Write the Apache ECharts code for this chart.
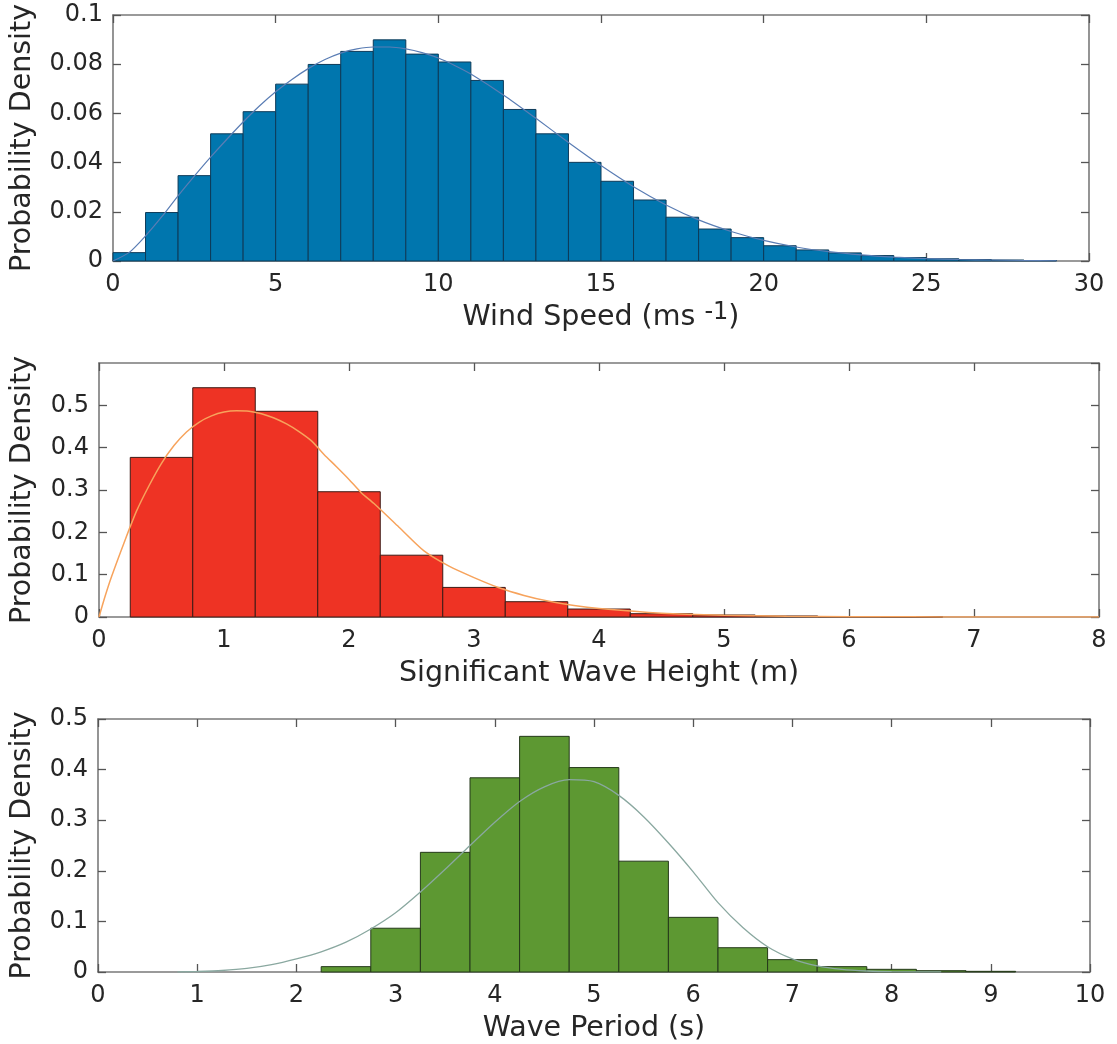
<!DOCTYPE html>
<html>
<head>
<meta charset="utf-8">
<script src="https://cdn.jsdelivr.net/npm/echarts@6/dist/echarts.min.js"></script>
<style>
  html, body { margin: 0; padding: 0; background: #ffffff; }
  #chart { width: 1117px; height: 1044px; }
</style>
</head>
<body>
<div id="chart"></div>
<script>
// ---------- Data ----------
// Wind speed histogram (bin edges in m/s) and probability densities
const windBinEdges = [0,1,2,3,4,5,6,7,8,9,10,11,12,13,14,15,16,17,18,19,20,21,22,23,24,25,26,27,28,29];
const windDensity = [0.0034,0.0197,0.0347,0.0517,0.0607,0.0719,0.0799,0.0852,0.0899,0.0841,
                     0.0809,0.0734,0.0616,0.0517,0.0401,0.0324,0.0248,0.0178,0.0130,0.0095,
                     0.0062,0.0045,0.0033,0.0022,0.0014,0.0009,0.0006,0.0004,0.0002];
// Fitted density curve (wind)
const windFitX = [0,0.5,1,1.5,2,2.5,3,3.5,4,4.5,5,5.5,6,6.5,7,7.5,8,8.5,9,9.5,10,10.5,11,12,13,14,15,16,17,18,19,20,21,22,23,24,25,26,27,28,29];
const windFitY = [0,0.0035,0.0102,0.0180,0.0265,0.0345,0.0422,0.0495,0.0565,0.0630,0.0688,0.0738,0.0782,0.0818,0.0845,0.0862,0.0870,0.0870,0.0862,0.0847,0.0825,0.0795,0.0760,0.0675,0.0580,0.0482,0.0388,0.0302,0.0228,0.0167,0.0120,0.0084,0.0057,0.0038,0.0025,0.0016,0.0010,0.0006,0.0004,0.0002,0.0001];

// Significant wave height histogram (bin edges in m)
const waveHeightBinEdges = [0.25,0.75,1.25,1.75,2.25,2.75,3.25,3.75,4.25,4.75,5.25,5.75,6.25,6.75];
const waveHeightDensity = [0.377,0.5416,0.4859,0.2959,0.146,0.0699,0.0361,0.0188,0.0078,0.0047,0.0024,0.0008,0.0004];
const waveHeightFitX = [0,0.05,0.1,0.2,0.3,0.4,0.5,0.6,0.7,0.8,0.9,1.0,1.1,1.2,1.3,1.4,1.5,1.6,1.7,1.8,1.9,2.0,2.1,2.2,2.4,2.6,2.8,3.0,3.2,3.4,3.6,3.8,4.0,4.5,5.0,5.5,6.0,6.5,7.0,8.0];
const waveHeightFitY = [0,0.05,0.095,0.175,0.25,0.31,0.363,0.405,0.437,0.46,0.475,0.484,0.487,0.486,0.48,0.47,0.456,0.438,0.416,0.384,0.355,0.325,0.293,0.268,0.212,0.156,0.12,0.093,0.069,0.051,0.037,0.027,0.02,0.009,0.004,0.0018,0.0008,0.0004,0.0002,0.0001];

// Wave period histogram (bin edges in s)
const wavePeriodBinEdges = [2.25,2.75,3.25,3.75,4.25,4.75,5.25,5.75,6.25,6.75,7.25,7.75,8.25,8.75,9.25];
const wavePeriodDensity = [0.0106,0.0865,0.2365,0.3838,0.4657,0.404,0.219,0.108,0.048,0.0244,0.0106,0.0053,0.0026,0.0013];
const wavePeriodFitX = [0.8,1.0,1.25,1.5,1.75,2.0,2.25,2.5,2.75,3.0,3.25,3.5,3.75,4.0,4.25,4.5,4.75,5.0,5.25,5.5,5.75,6.0,6.25,6.5,6.75,7.0,7.25,7.5,7.75,8.0,8.5];
const wavePeriodFitY = [0,0.001,0.003,0.007,0.0145,0.026,0.040,0.059,0.085,0.117,0.158,0.203,0.25,0.296,0.337,0.366,0.38,0.376,0.349,0.307,0.255,0.198,0.137,0.088,0.05,0.026,0.012,0.005,0.002,0.0007,0.0001];

// Axis labels
const yTitle = 'Probability Density';
const xTitles = ['{a|Wind Speed (ms }{b|-1}{a|)}', 'Significant Wave Height (m)', 'Wave Period (s)'];

// ---------- Helpers ----------
function histData(edges, dens) {
  return dens.map((v, i) => [edges[i], edges[i + 1], v]);
}
function pairs(xs, ys) { return xs.map((x, i) => [x, ys[i]]); }

const FONT = 'DejaVu Sans';
const TXT = '#262626';
const AXIS_LINE = { show: true, onZero: false, lineStyle: { color: '#7a7a7a', width: 1.6 } };
const TICK = { show: true, inside: true, length: 8, lineStyle: { color: '#555555', width: 1.3 } };

function makeHistSeries(idx, edges, dens, fill, edge) {
  return {
    type: 'custom',
    xAxisIndex: idx * 2, yAxisIndex: idx * 2,
    data: histData(edges, dens),
    encode: { x: [0, 1], y: 2 },
    renderItem: function (params, api) {
      const p0 = api.coord([api.value(0), api.value(2)]);
      const p1 = api.coord([api.value(1), 0]);
      return {
        type: 'rect',
        shape: { x: p0[0], y: p0[1], width: p1[0] - p0[0], height: p1[1] - p0[1] },
        style: { fill: fill, stroke: edge, lineWidth: 1 }
      };
    },
    z: 2
  };
}
function makeLineSeries(idx, xs, ys, color, width) {
  return {
    type: 'line', xAxisIndex: idx * 2, yAxisIndex: idx * 2,
    data: pairs(xs, ys), smooth: 0.25, showSymbol: false,
    lineStyle: { color: color, width: width }, z: 5, silent: true
  };
}

const grids = [
  { left: 112, top: 15, width: 977, height: 246 },
  { left: 97, top: 363, width: 1002, height: 254 },
  { left: 96, top: 719, width: 994, height: 253 }
];
const xRanges = [ {min: 0, max: 30, interval: 5}, {min: 0, max: 8, interval: 1}, {min: 0, max: 10, interval: 1} ];
const yRanges = [ {min: 0, max: 0.1, interval: 0.02}, {min: 0, max: 0.6, interval: 0.1}, {min: 0, max: 0.5, interval: 0.1} ];
const xNameGaps = [40, 42, 42];
const yNameGaps = [76, 62, 61];

const xAxes = [], yAxes = [];
for (let i = 0; i < 3; i++) {
  xAxes.push({
    type: 'value', gridIndex: i, position: 'bottom', ...xRanges[i],
    name: xTitles[i], nameLocation: 'middle', nameGap: xNameGaps[i],
    nameTextStyle: {
      fontFamily: FONT, fontSize: 28.5, color: TXT,
      rich: {
        a: { fontFamily: FONT, fontSize: 28.5, color: TXT, lineHeight: 34 },
        b: { fontFamily: FONT, fontSize: 24, color: TXT, lineHeight: 22, verticalAlign: 'top' }
      }
    },
    axisLine: AXIS_LINE, axisTick: TICK, splitLine: { show: false },
    axisLabel: { fontFamily: FONT, fontSize: 24, color: TXT, margin: 12 }
  });
  xAxes.push({
    type: 'value', gridIndex: i, position: 'top', ...xRanges[i],
    axisLine: AXIS_LINE, axisTick: TICK, splitLine: { show: false },
    axisLabel: { show: false }
  });
  yAxes.push({
    type: 'value', gridIndex: i, position: 'left', ...yRanges[i],
    name: yTitle, nameLocation: 'middle', nameGap: yNameGaps[i], nameRotate: 90,
    nameTextStyle: { fontFamily: FONT, fontSize: 28.5, color: TXT },
    axisLine: AXIS_LINE, axisTick: TICK, splitLine: { show: false },
    axisLabel: { fontFamily: FONT, fontSize: 24, color: TXT, margin: 10, showMaxLabel: i !== 1 }
  });
  yAxes.push({
    type: 'value', gridIndex: i, position: 'right', ...yRanges[i],
    axisLine: AXIS_LINE, axisTick: TICK, splitLine: { show: false },
    axisLabel: { show: false }
  });
}

const chart = echarts.init(document.getElementById('chart'), null, { renderer: 'canvas' });
chart.setOption({
  animation: false,
  backgroundColor: '#ffffff',
  grid: grids,
  xAxis: xAxes,
  yAxis: yAxes,
  series: [
    makeHistSeries(0, windBinEdges, windDensity, '#0076ae', '#0d3a58'),
    makeLineSeries(0, windFitX, windFitY, '#5a7db4', 1.2),
    makeHistSeries(1, waveHeightBinEdges, waveHeightDensity, '#ee3324', '#3d1a14'),
    makeLineSeries(1, waveHeightFitX, waveHeightFitY, '#f7a35c', 1.5),
    makeHistSeries(2, wavePeriodBinEdges, wavePeriodDensity, '#5d9832', '#25391a'),
    makeLineSeries(2, wavePeriodFitX, wavePeriodFitY, '#8aa8a0', 1.3)
  ]
});
</script>
</body>
</html>
